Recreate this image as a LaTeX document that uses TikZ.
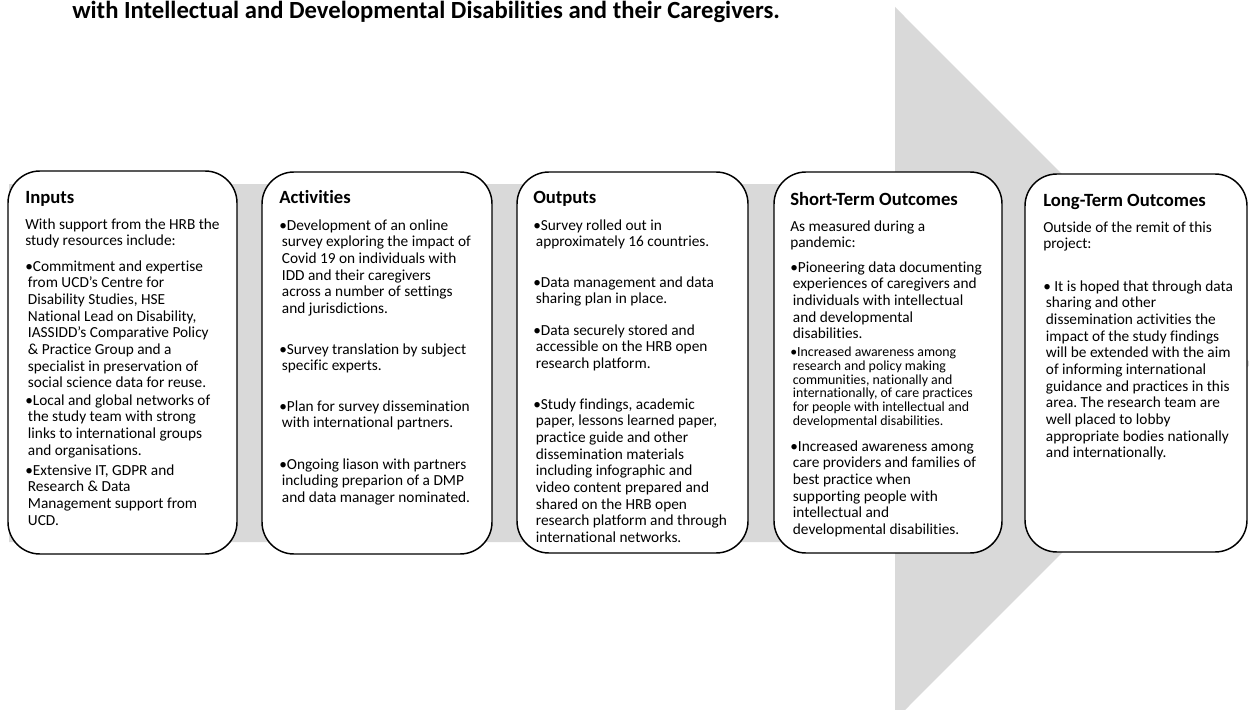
\documentclass[tikz,border=0pt]{standalone}
\usepackage{fontspec}
\setmainfont{Carlito}[Ligatures=NoCommon]
\definecolor{arrowgray}{HTML}{D9D9D9}
\newcommand{\ci}{\hspace*{2pt}}
\frenchspacing
\begin{document}
\begin{tikzpicture}[x=0.75pt,y=-0.75pt,
  stage/.style={draw=black, line width=1.1pt, fill=white, rounded corners=24pt, inner sep=0pt},
  txt/.style={anchor=north west, align=left, inner sep=0pt, font=\fontsize{11.5}{12.5}\selectfont},
  small/.style={anchor=north west, align=left, inner sep=0pt, font=\fontsize{10.4}{10.4}\selectfont},
  head/.style={anchor=base west, inner sep=0pt, font=\fontsize{14}{16}\selectfont\bfseries}]
\useasboundingbox (0,0) rectangle (1249,710);
\clip (0,0) rectangle (1249,710);
% big arrow
\fill[arrowgray] (9,184) -- (895,184) -- (895,7) -- (1251,363.5) -- (895,720) -- (895,542) -- (9,542) -- cycle;
% title
\node[anchor=base west, inner sep=0pt, font=\fontsize{18.5}{22}\selectfont\bfseries] (title) at (72,19) {with Intellectual and Developmental Disabilities and their Caregivers.};
% boxes
\node[stage, minimum width=171.75pt, minimum height=287.25pt] (inputs) at (122.5,362.5) {};
\node[stage, minimum width=172.5pt, minimum height=286.5pt] (activities) at (377,363) {};
\node[stage, minimum width=173.25pt, minimum height=285.75pt] (outputs) at (632.5,362.5) {};
\node[stage, minimum width=171pt, minimum height=285.75pt] (short) at (888,362.5) {};
\node[stage, minimum width=166.5pt, minimum height=283.5pt] (long) at (1136,363) {};
% Inputs
\node[head] (inH) at (25,203) {Inputs};
\node[txt] (in0) at (25,217.3) {\strut With support from the HRB the\\study resources include:};
\node[txt] (in1) at (25,259.3) {\strut •Commitment and expertise\\\ci from UCD's Centre for\\\ci Disability Studies, HSE\\\ci National Lead on Disability,\\\ci IASSIDD's Comparative Policy\\\ci \& Practice Group and a\\\ci specialist in preservation of\\\ci social science data for reuse.};
\node[txt] (in2) at (25,393.3) {\strut •Local and global networks of\\\ci the study team with strong\\\ci links to international groups\\\ci and organisations.};
\node[txt] (in3) at (25,463.3) {\strut •Extensive IT, GDPR and\\\ci Research \& Data\\\ci Management support from\\\ci UCD.};
% Activities
\node[head] (acH) at (279,203) {Activities};
\node[txt] (ac1) at (279,218.3) {\strut •Development of an online\\\ci survey exploring the impact of\\\ci Covid 19 on individuals with\\\ci IDD and their caregivers\\\ci across a number of settings\\\ci and jurisdictions.};
\node[txt] (ac2) at (279,342.3) {\strut •Survey translation by subject\\\ci specific experts.};
\node[txt] (ac3) at (279,399.3) {\strut •Plan for survey dissemination\\\ci with international partners.};
\node[txt] (ac4) at (279,457.3) {\strut •Ongoing liason with partners\\\ci including preparion of a DMP\\\ci and data manager nominated.};
% Outputs
\node[head] (ouH) at (533,203) {Outputs};
\node[txt] (ou1) at (533,218.3) {\strut •Survey rolled out in\\\ci approximately 16 countries.};
\node[txt] (ou2) at (533,275.3) {\strut •Data management and data\\\ci sharing plan in place.};
\node[txt] (ou3) at (533,323.3) {\strut •Data securely stored and\\\ci accessible on the HRB open\\\ci research platform.};
\node[txt] (ou4) at (533,397.3) {\strut •Study findings, academic\\\ci paper, lessons learned paper,\\\ci practice guide and other\\\ci dissemination materials\\\ci including infographic and\\\ci video content prepared and\\\ci shared on the HRB open\\\ci research platform and through\\\ci international networks.};
% Short-term
\node[head] (stH) at (790,205) {Short-Term Outcomes};
\node[txt] (st0) at (790,219.3) {\strut As measured during a\\pandemic:};
\node[txt] (st1) at (790,260.3) {\strut •Pioneering data documenting\\\ci experiences of caregivers and\\\ci individuals with intellectual\\\ci and developmental\\\ci disabilities.};
\node[small] (st2) at (790,346.3) {\strut •Increased awareness among\\\ci research and policy making\\\ci communities, nationally and\\\ci internationally, of care practices\\\ci for people with intellectual and\\\ci developmental disabilities.};
\node[txt] (st3) at (790,439.3) {\strut •Increased awareness among\\\ci care providers and families of\\\ci best practice when\\\ci supporting people with\\\ci intellectual and\\\ci developmental disabilities.};
% Long-term
\node[head] (ltH) at (1043,206) {Long-Term Outcomes};
\node[txt] (lt0) at (1043,220.3) {\strut Outside of the remit of this\\project:};
\node[txt] (lt1) at (1043,279.3) {\strut • It is hoped that through data\\\ci sharing and other\\\ci dissemination activities the\\\ci impact of the study findings\\\ci will be extended with the aim\\\ci of informing international\\\ci guidance and practices in this\\\ci area. The research team are\\\ci well placed to lobby\\\ci appropriate bodies nationally\\\ci and internationally.};
\end{tikzpicture}
\end{document}
